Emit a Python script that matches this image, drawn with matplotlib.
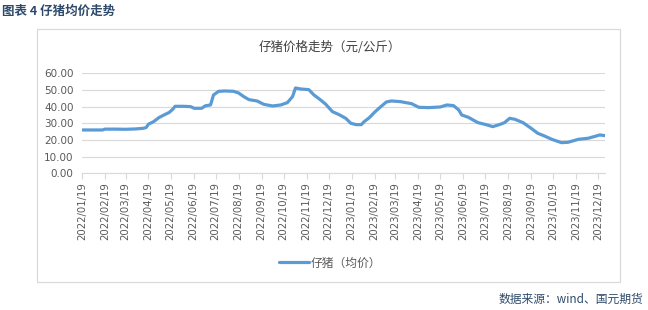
import matplotlib
matplotlib.use("Agg")
import matplotlib.pyplot as plt
import matplotlib.dates as mdates
from matplotlib.patches import Rectangle
import pandas as pd

plt.rcParams['font.family'] = ['Noto Sans CJK SC', 'DejaVu Sans']

dates = [
    "2022-01-19", "2022-02-01", "2022-02-16", "2022-02-19", "2022-03-05", "2022-03-19",
    "2022-04-01", "2022-04-12", "2022-04-16", "2022-04-19", "2022-04-26", "2022-05-03",
    "2022-05-10", "2022-05-17", "2022-05-22", "2022-05-25", "2022-06-05", "2022-06-15",
    "2022-06-20", "2022-06-30", "2022-07-05", "2022-07-12", "2022-07-16", "2022-07-23",
    "2022-08-01", "2022-08-12", "2022-08-19", "2022-08-26", "2022-09-02", "2022-09-13",
    "2022-09-22", "2022-10-04", "2022-10-15", "2022-10-24", "2022-10-31", "2022-11-04",
    "2022-11-11", "2022-11-22", "2022-11-29", "2022-12-08", "2022-12-15", "2022-12-24",
    "2023-01-02", "2023-01-11", "2023-01-18", "2023-01-25", "2023-02-01", "2023-02-05",
    "2023-02-12", "2023-02-19", "2023-02-26", "2023-03-07", "2023-03-14", "2023-03-26",
    "2023-04-10", "2023-04-20", "2023-05-03", "2023-05-19", "2023-05-28", "2023-06-06",
    "2023-06-13", "2023-06-17", "2023-06-26", "2023-07-09", "2023-07-20", "2023-07-29",
    "2023-08-07", "2023-08-14", "2023-08-21", "2023-08-28", "2023-09-08", "2023-09-19",
    "2023-09-28", "2023-10-07", "2023-10-17", "2023-10-30", "2023-11-08", "2023-11-22",
    "2023-12-05", "2023-12-21", "2023-12-28",
]
values = [
    26.0, 26.0, 26.0, 26.5, 26.5, 26.4,
    26.6, 27.0, 27.5, 29.5, 31.0, 33.4,
    35.0, 36.5, 38.5, 40.2, 40.2, 40.0,
    39.0, 39.0, 40.5, 41.0, 47.0, 49.2,
    49.4, 49.2, 48.2, 46.0, 44.2, 43.4,
    41.4, 40.4, 41.0, 42.4, 46.0, 51.2,
    50.6, 50.2, 47.0, 44.0, 41.4, 37.0,
    35.2, 33.0, 30.0, 29.2, 29.2, 31.0,
    33.4, 36.6, 39.4, 42.8, 43.4, 43.0,
    41.8, 39.6, 39.4, 39.8, 41.0, 40.6,
    38.0, 35.0, 33.6, 30.4, 29.2, 28.0,
    29.2, 30.4, 33.0, 32.4, 30.4, 27.0,
    24.0, 22.4, 20.4, 18.4, 18.6, 20.4,
    21.0, 23.0, 22.6,
]
series_name = "仔猪（均价）"
chart_title = "仔猪价格走势（元/公斤）"
fig_title = "图表 4 仔猪均价走势"
source_text = "数据来源：wind、国元期货"
yticks = [0, 10, 20, 30, 40, 50, 60]
xtick_dates = pd.date_range("2022-01-01", "2023-12-01", freq="MS") + pd.Timedelta(days=18)

W, H = 648, 310
fig = plt.figure(figsize=(W / 100, H / 100), dpi=100)
fig.patch.set_facecolor("white")

# chart frame
fig.add_artist(Rectangle((37 / W, 1 - 282 / H), (620 - 37) / W, (282 - 29) / H,
                         transform=fig.transFigure, fill=False,
                         edgecolor="#D9D9D9", linewidth=0.9))

ax = fig.add_axes([82 / W, 1 - 173.3 / H, (605 - 82) / W, 100 / H])
x = pd.to_datetime(dates)
ax.plot(x, values, color="#5B9BD5", linewidth=2.3, label=series_name,
        solid_capstyle="round", solid_joinstyle="round")

ax.set_ylim(0, 60)
ax.set_yticks(yticks)
ax.set_yticklabels([f"{v:.2f}" for v in yticks])
ax.set_xlim(pd.Timestamp("2022-01-19"), pd.Timestamp("2023-12-28"))
ax.set_xticks(xtick_dates)
ax.xaxis.set_major_formatter(mdates.DateFormatter("%Y/%m/%d"))
ax.grid(axis="y", color="#D9D9D9", linewidth=0.8)
ax.set_axisbelow(True)
for s in ["top", "right", "left"]:
    ax.spines[s].set_visible(False)
ax.spines["bottom"].set_color("#D9D9D9")
ax.tick_params(axis="y", length=0, labelsize=7.5, labelcolor="#595959", pad=6)
ax.tick_params(axis="x", length=4, color="#D9D9D9", labelsize=7.3,
               labelcolor="#595959", rotation=90, pad=2)
for lab in ax.get_xticklabels():
    lab.set_family(['DejaVu Sans'])
for lab in ax.get_yticklabels():
    lab.set_family(['DejaVu Sans'])

fig.text(330 / W, 1 - 47 / H, chart_title, ha="center", va="center",
         fontsize=9, color="#404040")
fig.text(2 / W, 1 - 11 / H, fig_title, ha="left", va="center",
         fontsize=9, color="#2E4A6B", fontweight="bold")
fig.text(643 / W, 1 - 299 / H, source_text, ha="right", va="center",
         fontsize=8.5, color="#2E4A6B")

leg = fig.legend(loc="center", bbox_to_anchor=(330 / W, 1 - 263 / H),
                 frameon=False, fontsize=8.5, handlelength=2.6,
                 handletextpad=0.15, labelcolor="#595959")

fig.savefig("out.png", dpi=100, facecolor="white")
